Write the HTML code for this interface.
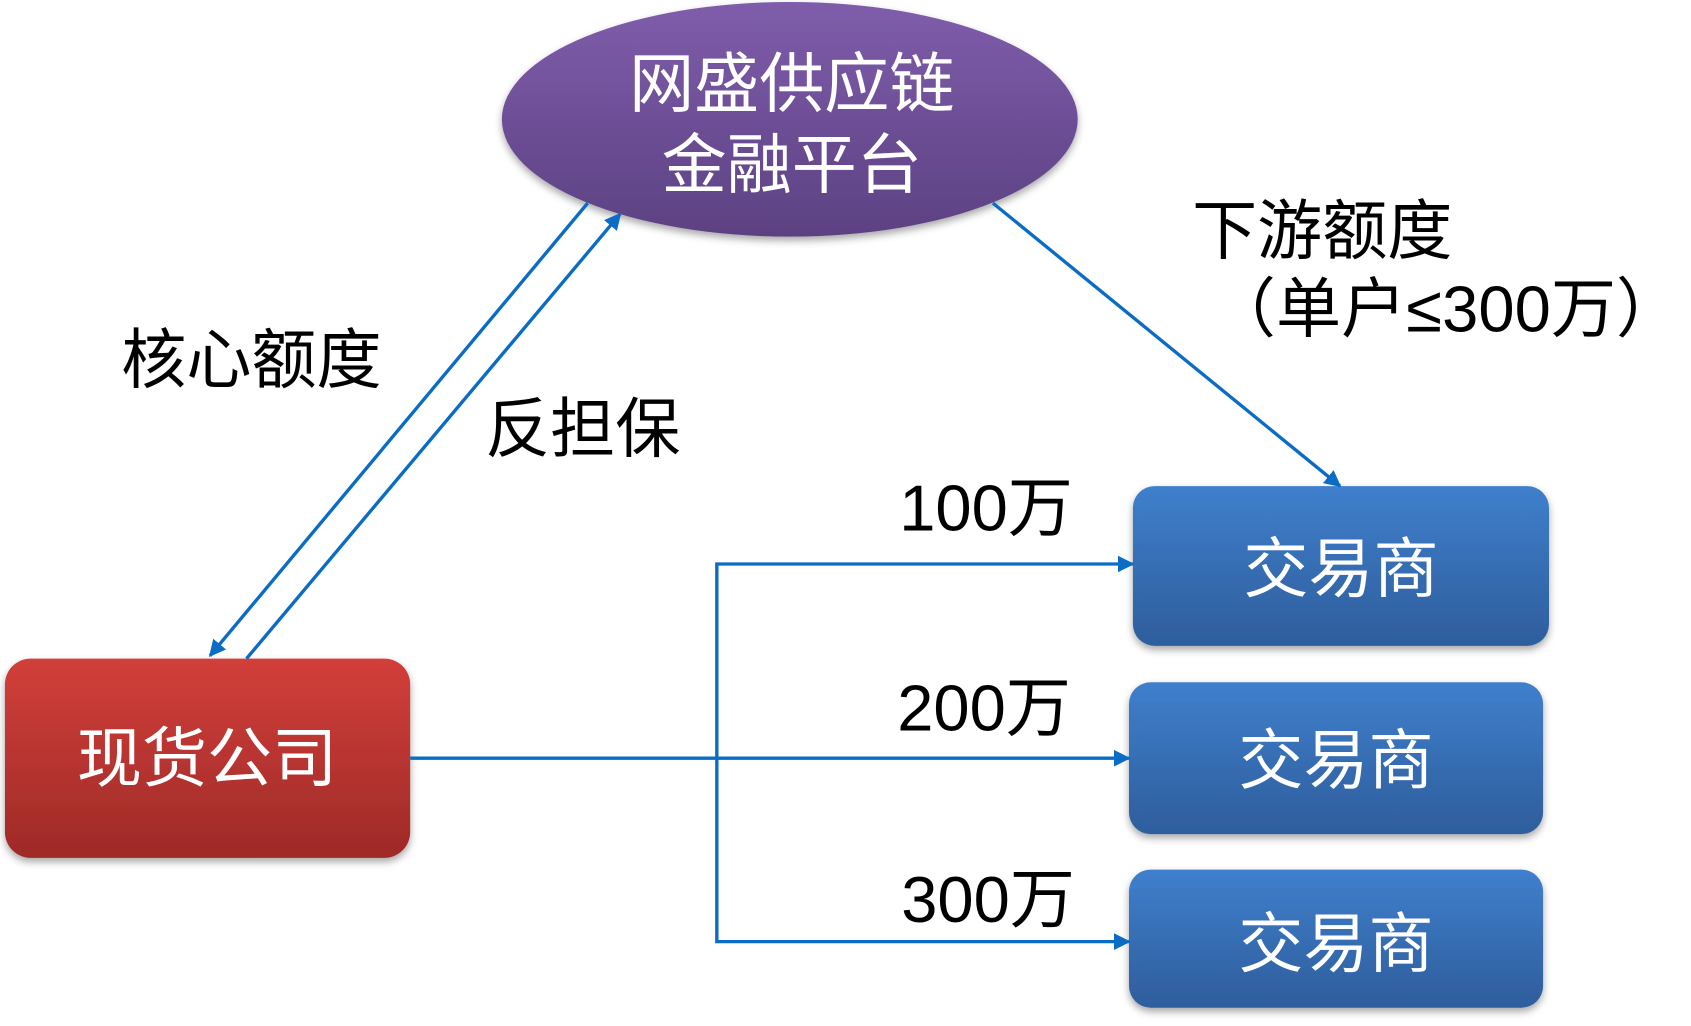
<!DOCTYPE html>
<html><head><meta charset="utf-8"><style>
html,body{margin:0;padding:0;background:#fff;}
svg{display:block;}
text{font-family:"Liberation Sans","Noto Sans CJK SC",sans-serif;}
</style></head><body>
<svg width="1691" height="1026" viewBox="0 0 1691 1026" xmlns="http://www.w3.org/2000/svg">
<defs>
<linearGradient id="gp" x1="0" y1="0" x2="0" y2="1"><stop offset="0" stop-color="#7f5dab"/><stop offset="1" stop-color="#5c4182"/></linearGradient>
<linearGradient id="gr" x1="0" y1="0" x2="0" y2="1"><stop offset="0" stop-color="#d23f3a"/><stop offset="1" stop-color="#9e2a27"/></linearGradient>
<linearGradient id="gb" x1="0" y1="0" x2="0" y2="1"><stop offset="0" stop-color="#3f7fcc"/><stop offset="1" stop-color="#2e5d9c"/></linearGradient>
<filter id="sh" x="-10%" y="-10%" width="120%" height="130%"><feDropShadow dx="0" dy="4" stdDeviation="4" flood-color="#000" flood-opacity="0.35"/></filter>
<marker id="ar" viewBox="0 0 10 10" refX="9" refY="5" markerWidth="5" markerHeight="5" orient="auto-start-reverse"><path d="M0,0 L10,5 L0,10 z" fill="#0a6cc4"/></marker>
</defs>
<g transform="scale(0.986)">
<ellipse cx="801" cy="121" rx="292" ry="119" fill="url(#gp)" filter="url(#sh)"/>
<rect x="5" y="668" width="411" height="202" rx="26" fill="url(#gr)" filter="url(#sh)"/>
<rect x="1149" y="493" width="422" height="162" rx="22" fill="url(#gb)" filter="url(#sh)"/>
<rect x="1145" y="692" width="420" height="154" rx="22" fill="url(#gb)" filter="url(#sh)"/>
<rect x="1145" y="882" width="420" height="140" rx="22" fill="url(#gb)" filter="url(#sh)"/>
<g stroke="#0a6cc4" stroke-width="3.4" fill="none">
<line x1="596" y1="206" x2="213" y2="665" marker-end="url(#ar)"/>
<line x1="250" y1="668" x2="629" y2="217" marker-end="url(#ar)"/>
<line x1="1007" y1="206" x2="1359" y2="493" marker-end="url(#ar)"/>
<line x1="416" y1="769" x2="1145" y2="769" marker-end="url(#ar)"/>
<polyline points="1149,572 727,572 727,955 1145,955" marker-start="url(#ar)" marker-end="url(#ar)"/>
</g>
<g fill="#fff" font-size="66" text-anchor="middle">
<text x="803" y="108">网盛供应链</text>
<text x="803" y="190">金融平台</text>
<text x="210" y="792">现货公司</text>
<text x="1360" y="600">交易商</text>
<text x="1355" y="794">交易商</text>
<text x="1355" y="980">交易商</text>
</g>
<g fill="#000" font-size="66">
<text x="123" y="388">核心额度</text>
<text x="492" y="458">反担保</text>
<text x="1209" y="257">下游额度</text>
<text x="1228" y="336" textLength="477" lengthAdjust="spacing">（单户≤300万）</text>
<text x="912" y="538">100万</text>
<text x="910" y="741">200万</text>
<text x="914" y="935">300万</text>
</g>
</g>
</svg>
</body></html>
